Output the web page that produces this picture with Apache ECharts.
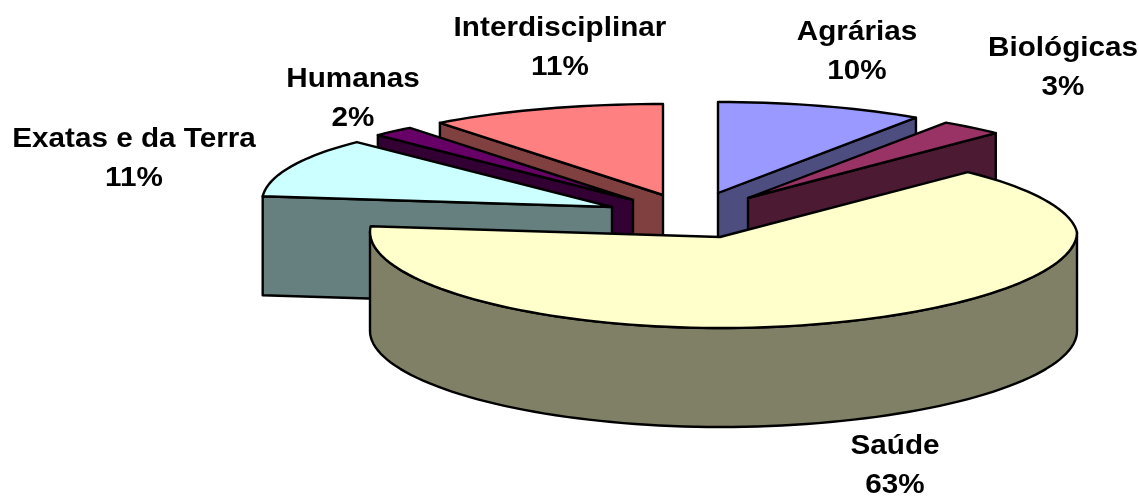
<!DOCTYPE html>
<html>
<head>
<meta charset="utf-8">
<style>html,body{margin:0;padding:0;background:#fff}#chart{width:1139px;height:497px}</style>
<script src="https://cdn.jsdelivr.net/npm/echarts@6/dist/echarts.min.js"></script>
</head>
<body>
<div id="chart"></div>
<script>
// Share of records by field of knowledge, clockwise from twelve o'clock
const categories = ['Agrárias', 'Biológicas', 'Saúde', 'Exatas e da Terra', 'Humanas', 'Interdisciplinar'];
const shares = [10, 3, 63, 11, 2, 11];
const topColors = ['#9999FF', '#993366', '#FFFFCC', '#CCFFFF', '#660066', '#FF8080'];
const sideColors = ['#4D4D80', '#4D1A33', '#808066', '#668080', '#330033', '#804040'];

// Tip of each pulled-out wedge on the page
const wedgeTips = [[718, 193], [748, 198], [720, 237], [612, 207], [633, 200], [663, 195]];
// Back wedges first, so nearer ones overlap them
const paintRank = [0, 3, 5, 4, 2, 1];
// Centre of each two-line label
const labelCentres = [[857, 52], [1063, 68], [895, 466], [134, 159], [353, 99], [560, 48]];

const DEPTH = 99;
const RADIUS_LEFT = 350, RADIUS_RIGHT = 357, RADIUS_Y = 91;
const BACK_SHRINK = 0.07, SIDE_LIFT = 5;
const STEP = 2;

// Tilted-disc projection of a rim point, relative to the wedge tip
function rim(tip, deg, drop) {
  const t = deg * Math.PI / 180, s = Math.sin(t), c = Math.cos(t);
  const rx = s > 0 ? RADIUS_RIGHT * (1 - BACK_SHRINK * Math.max(c, 0)) : RADIUS_LEFT;
  return [tip[0] + s * rx, tip[1] - RADIUS_Y * c - SIDE_LIFT * s * s + (drop || 0)];
}

function arc(tip, from, to, drop) {
  const pts = [];
  for (let d = from; d < to; d += STEP) pts.push(rim(tip, d, drop));
  pts.push(rim(tip, to, drop));
  return pts;
}

const startAngles = [];
shares.reduce((acc, v, i) => { startAngles[i] = acc; return acc + v; }, 0);
const total = shares.reduce((a, b) => a + b, 0);

function renderWedge(params) {
  const i = params.dataIndex;
  const a = startAngles[i] / total * 360;
  const b = (startAngles[i] + shares[i]) / total * 360;
  const tip = wedgeTips[i];
  const tipLow = [tip[0], tip[1] + DEPTH];
  const stroke = { stroke: '#000', lineWidth: 2.4, lineJoin: 'round' };
  const z = paintRank[i] * 10;
  const children = [];
  const poly = (points, fill, z2) => children.push({
    type: 'polygon', z2: z + z2, shape: { points }, style: Object.assign({ fill }, stroke)
  });

  // Radial cut faces that turn toward the viewer
  [[a, Math.sin(a * Math.PI / 180) < -1e-6], [b, Math.sin(b * Math.PI / 180) > 1e-6]].forEach(([ang, faces]) => {
    if (faces) poly([tip, rim(tip, ang), rim(tip, ang, DEPTH), tipLow], sideColors[i], 1);
  });

  // Outer wall along the front half of the rim
  const f0 = Math.max(a, 90), f1 = Math.min(b, 270);
  if (f1 > f0) {
    poly(arc(tip, f0, f1).concat(arc(tip, f0, f1, DEPTH).reverse()), sideColors[i], 2);
  }

  // Top face
  poly([tip].concat(arc(tip, a, b)), topColors[i], 3);

  // Label, slightly widened
  children.push({
    type: 'text', z2: 100, silent: true,
    x: labelCentres[i][0], y: labelCentres[i][1], scaleX: 1.06,
    style: {
      text: categories[i] + '\n' + shares[i] + '%',
      x: 0, y: 0,
      fill: '#000', font: 'bold 28px "Liberation Sans", Arial, sans-serif',
      align: 'center', verticalAlign: 'middle', lineHeight: 39
    }
  });
  return { type: 'group', children };
}

const chart = echarts.init(document.getElementById('chart'), null, { renderer: 'canvas' });
chart.setOption({
  animation: false,
  backgroundColor: '#fff',
  series: [{
    type: 'custom',
    coordinateSystem: 'none',
    renderItem: renderWedge,
    data: shares
  }]
});
</script>
</body>
</html>
